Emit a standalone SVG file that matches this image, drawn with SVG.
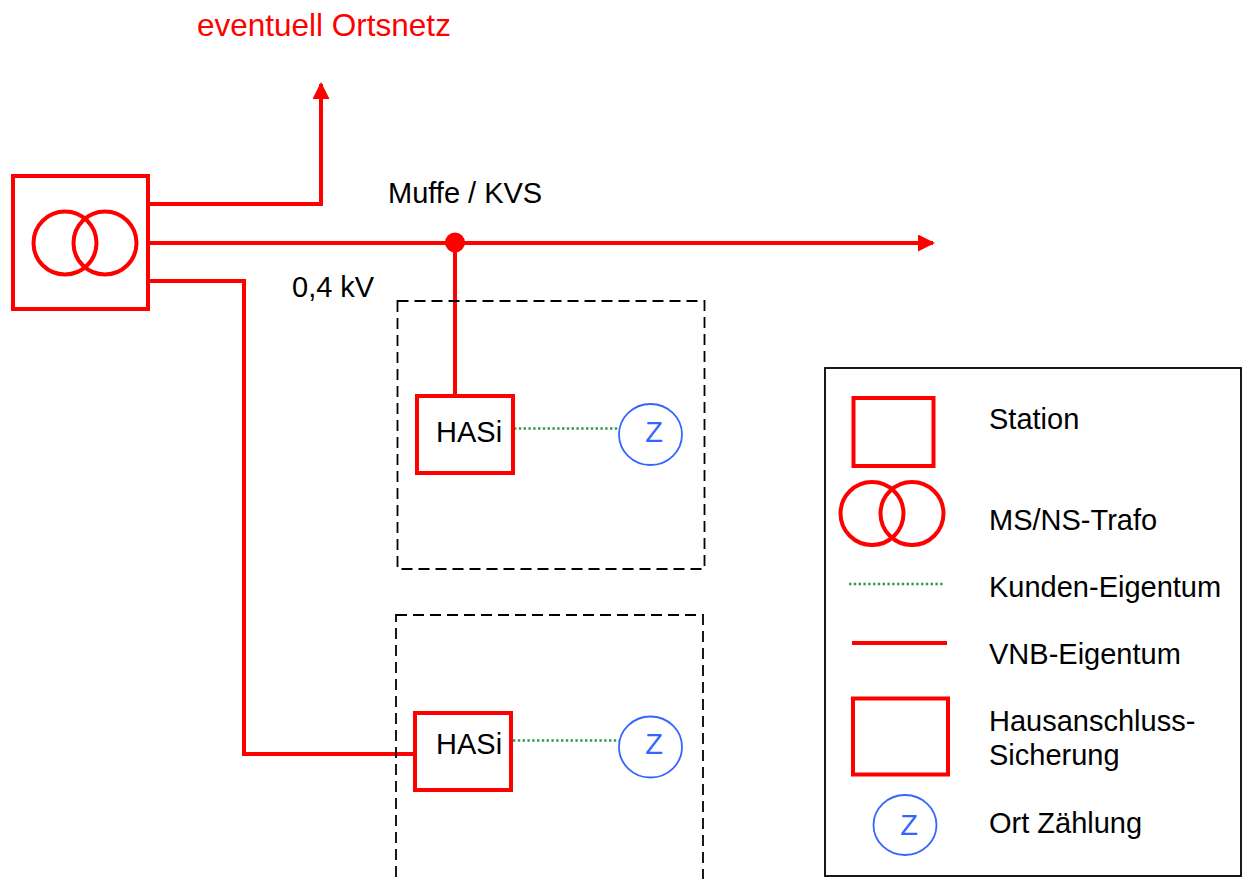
<svg xmlns="http://www.w3.org/2000/svg" width="1245" height="879" viewBox="0 0 1245 879">
<style>
text{font-family:"Liberation Sans",Arial,sans-serif;font-size:29px;fill:#000}
.red{fill:none;stroke:#ff0000;stroke-width:4}
.wire{fill:none;stroke:#ff0000;stroke-width:4;stroke-linejoin:miter}
.dash{fill:none;stroke:#000;stroke-width:1.8;stroke-dasharray:11,6}
.dot{fill:none;stroke:#2e9a55;stroke-width:2.6;stroke-dasharray:2.4,2.4}
.zc{fill:none;stroke:#3366ff;stroke-width:1.8}
.zt{fill:#3366ff;text-anchor:middle}
</style>
<defs>
<marker id="arr" markerWidth="17" markerHeight="17" refX="15" refY="8.5" orient="auto" markerUnits="userSpaceOnUse">
<path d="M0,0 L17,8.5 L0,17 Z" fill="#ff0000"/>
</marker>
</defs>
<rect width="1245" height="879" fill="#fff"/>
<g id="connectors">
<polyline class="wire" points="148,204 321,204 321,84" marker-end="url(#arr)"/>
<line class="wire" x1="148" y1="243" x2="933" y2="243" marker-end="url(#arr)"/>
<line class="wire" x1="455" y1="243" x2="455" y2="396"/>
<polyline class="wire" points="148,281 244,281 244,754 414,754"/>
<line class="dot" x1="514" y1="428.5" x2="619" y2="428.5"/>
<line class="dot" x1="513" y1="740.5" x2="619" y2="740.5"/>
</g>
<g id="label-ortsnetz"><text x="197" y="36" style="fill:#ff0000;font-size:31.5px">eventuell Ortsnetz</text></g>
<g id="label-muffe"><text x="388" y="203">Muffe / KVS</text></g>
<g id="label-kv"><text x="292" y="297">0,4 kV</text></g>
<g id="station">
<rect class="red" x="13" y="176" width="135" height="133"/>
<circle class="red" cx="65" cy="243" r="31.5"/>
<circle class="red" cx="105" cy="243" r="31.5"/>
</g>
<g id="muffe"><circle cx="455" cy="242.5" r="10" fill="#ff0000"/></g>
<g id="house1">
<rect class="dash" x="397.5" y="301" width="307" height="268"/>
</g>
<g id="hasi1">
<rect class="red" x="417" y="396" width="96" height="77" style="fill:#fff"/>
<text x="436" y="442">HASi</text>
</g>
<g id="z1">
<ellipse class="zc" cx="650.5" cy="434.5" rx="31.5" ry="30.5"/>
<text class="zt" x="654" y="442">Z</text>
</g>
<g id="house2">
<rect class="dash" x="396" y="615" width="307" height="300"/>
</g>
<g id="hasi2">
<rect class="red" x="415" y="713" width="96" height="77" style="fill:#fff"/>
<text x="436" y="754">HASi</text>
</g>
<g id="z2">
<ellipse class="zc" cx="650.5" cy="747" rx="31.5" ry="30.5"/>
<text class="zt" x="654" y="754">Z</text>
</g>
<g id="legend">
<rect x="825" y="368" width="416" height="508" fill="none" stroke="#000" stroke-width="1.8"/>
<rect class="red" x="853.5" y="398" width="80" height="68"/>
<text x="989" y="429">Station</text>
<circle class="red" cx="872" cy="513.5" r="31.5"/>
<circle class="red" cx="912" cy="513.5" r="31.5"/>
<text x="989" y="530">MS/NS-Trafo</text>
<line class="dot" x1="849" y1="584" x2="943" y2="584"/>
<text x="989" y="597">Kunden-Eigentum</text>
<line class="red" x1="852" y1="643" x2="947" y2="643"/>
<text x="989" y="664">VNB-Eigentum</text>
<rect class="red" x="853" y="698.5" width="95" height="76"/>
<text x="989" y="731">Hausanschluss-</text>
<text x="989" y="765">Sicherung</text>
<ellipse class="zc" cx="905" cy="825" rx="31.5" ry="30"/>
<text class="zt" x="909" y="835">Z</text>
<text x="989" y="833">Ort Zählung</text>
</g>
</svg>
